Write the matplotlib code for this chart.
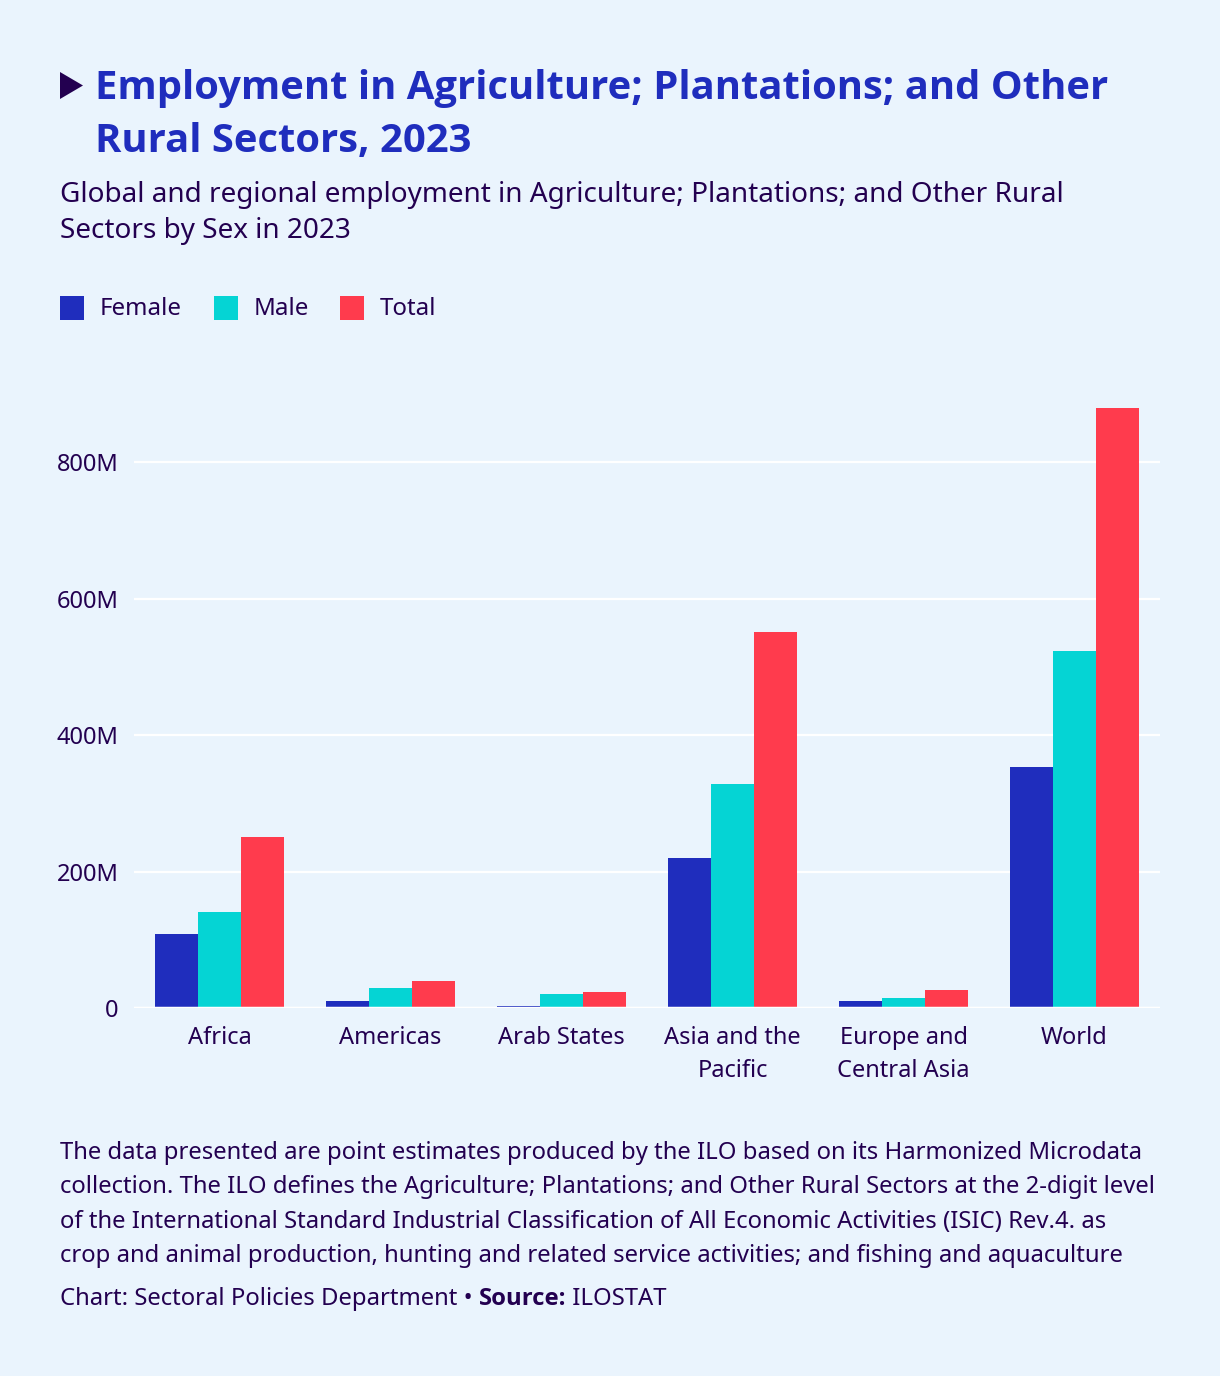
import matplotlib
matplotlib.use("Agg")
import matplotlib.pyplot as plt
import numpy as np
from matplotlib.patches import Polygon, Rectangle
from matplotlib import font_manager

plt.rcParams['font.family'] = ['Noto Sans', 'DejaVu Sans']

categories = ["Africa", "Americas", "Arab States", "Asia and the\nPacific", "Europe and\nCentral Asia", "World"]
series_names = ["Female", "Male", "Total"]
female = [109, 10, 2.5, 220, 10, 354]
male = [141, 29, 20.5, 329, 15, 524]
total = [250, 40, 23.5, 551, 26.5, 879]
yticks = [0, 200, 400, 600, 800]
tick_labels = ["0", "200M", "400M", "600M", "800M"]

colors = ["#1F2DBD", "#05D4D4", "#FF3B4D"]
bg = "#EAF4FD"
dark = "#230050"
title_col = "#1F2DBD"

bold_family = 'Noto Sans'
names = {(f.name, f.weight) for f in font_manager.fontManager.ttflist}
for fam in ['Noto Sans', 'Open Sans', 'Lato', 'Inter']:
    if any(n == fam and (w == 'bold' or (isinstance(w, int) and w >= 700) or w == 700) for n, w in names):
        bold_family = fam
        break

W, H = 1220, 1376
fig = plt.figure(figsize=(W / 100, H / 100), dpi=100, facecolor=bg)

def fx(px):
    return px / W

def fy(py):
    return 1 - py / H

ax = fig.add_axes([fx(134), fy(1008), fx(1160 - 134), (1008 - 377) / H])
ax.set_facecolor(bg)
x = np.arange(len(categories))
bw = 0.25
for i, (vals, c) in enumerate(zip([female, male, total], colors)):
    ax.bar(x + (i - 1) * bw, vals, width=bw, color=c, zorder=3, linewidth=0)
ax.set_xlim(-0.5, len(categories) - 0.5)
ax.set_ylim(0, 925)
ax.set_yticks(yticks)
ax.set_yticklabels(tick_labels)
ax.set_xticks(x)
ax.set_xticklabels(categories, linespacing=1.5)
ax.tick_params(axis='both', length=0, colors=dark, labelsize=17)
ax.tick_params(axis='y', pad=11)
ax.tick_params(axis='x', pad=13)
for lab in ax.get_xticklabels():
    lab.set_verticalalignment('top')
ax.grid(axis='y', color='white', linewidth=1.6, zorder=0)
ax.axhline(0, color='white', linewidth=2.5, zorder=4)
for s in ax.spines.values():
    s.set_visible(False)

tri = Polygon([[fx(60), fy(72)], [fx(60), fy(99)], [fx(83), fy(85.5)]], closed=True,
              transform=fig.transFigure, facecolor=dark, edgecolor='none')
fig.patches.append(tri)

fig.text(fx(95), fy(99), "Employment in Agriculture; Plantations; and Other", fontsize=28.8,
         fontweight='bold', family=[bold_family, 'DejaVu Sans'], color=title_col, va='baseline', ha='left')
fig.text(fx(95), fy(152), "Rural Sectors, 2023", fontsize=28.8,
         fontweight='bold', family=[bold_family, 'DejaVu Sans'], color=title_col, va='baseline', ha='left')

fig.text(fx(60), fy(202), "Global and regional employment in Agriculture; Plantations; and Other Rural",
         fontsize=20.1, color=dark, va='baseline', ha='left')
fig.text(fx(60), fy(238), "Sectors by Sex in 2023",
         fontsize=20.1, color=dark, va='baseline', ha='left')

leg_x = [60, 214, 340]
for name, c, lx in zip(series_names, colors, leg_x):
    fig.patches.append(Rectangle((fx(lx), fy(320)), fx(24), 24 / H, transform=fig.transFigure,
                                 facecolor=c, edgecolor='none'))
    fig.text(fx(lx + 40), fy(315), name, fontsize=17.3, color=dark, va='baseline', ha='left')

foot = [
    "The data presented are point estimates produced by the ILO based on its Harmonized Microdata",
    "collection. The ILO defines the Agriculture; Plantations; and Other Rural Sectors at the 2-digit level",
    "of the International Standard Industrial Classification of All Economic Activities (ISIC) Rev.4. as",
    "crop and animal production, hunting and related service activities; and fishing and aquaculture",
]
for i, line in enumerate(foot):
    fig.text(fx(60), fy(1159 + i * 34.3), line, fontsize=17.2, color=dark, va='baseline', ha='left')

t1 = fig.text(fx(60), fy(1305), "Chart: Sectoral Policies Department \u2022 ", fontsize=17.2, color=dark,
              va='baseline', ha='left')
fig.canvas.draw()
bb = t1.get_window_extent()
t2 = fig.text(bb.x1 / W, fy(1305), "Source:", fontsize=17.2, color=dark, fontweight='bold',
              family=[bold_family, 'DejaVu Sans'], va='baseline', ha='left')
fig.canvas.draw()
bb2 = t2.get_window_extent()
fig.text(bb2.x1 / W, fy(1305), " ILOSTAT", fontsize=17.2, color=dark, va='baseline', ha='left')

fig.savefig("out.png", dpi=100, facecolor=bg)
